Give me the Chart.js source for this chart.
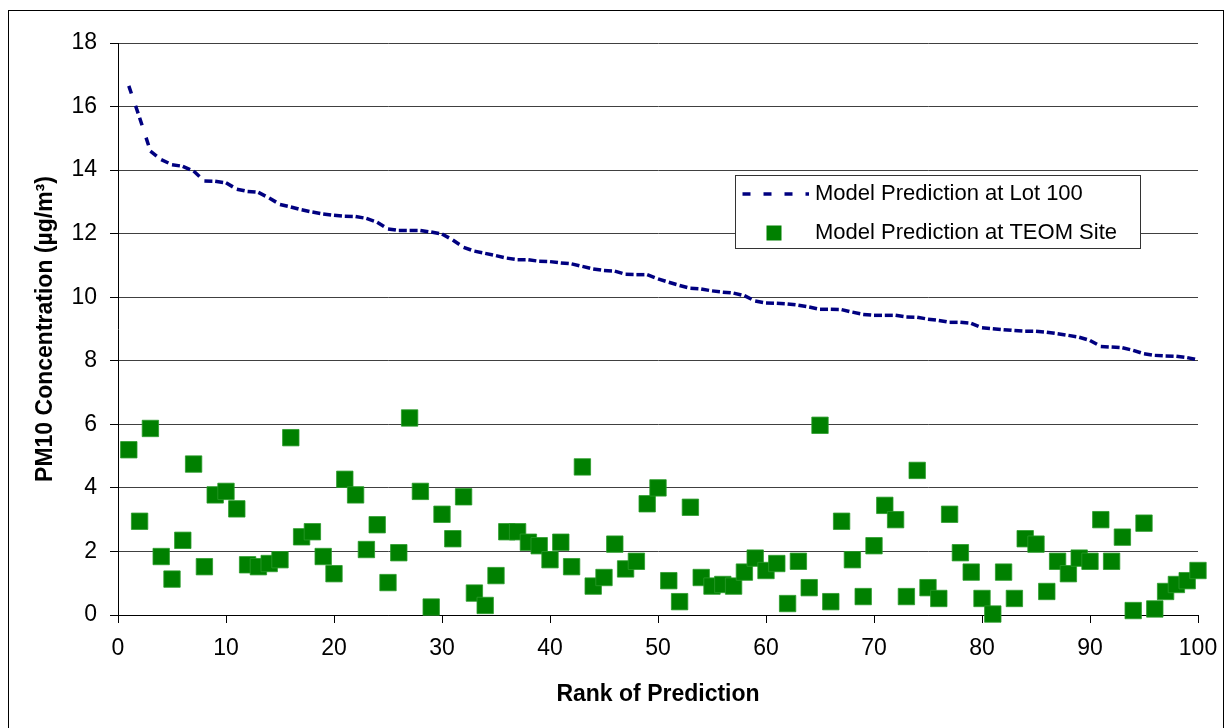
<!DOCTYPE html>
<html>
<head>
<meta charset="utf-8">
<script src="https://cdn.jsdelivr.net/npm/chart.js@4/dist/chart.umd.min.js"></script>
<style>
  html, body { margin: 0; padding: 0; background: #ffffff; }
  #wrap { width: 1225px; height: 728px; position: relative; }
</style>
</head>
<body>
<div id="wrap"><canvas id="c" width="1225" height="728"></canvas></div>
<script>
const seriesLabels = ['Model Prediction at Lot 100', 'Model Prediction at TEOM Site'];
const xTitle = 'Rank of Prediction';
const yTitle = 'PM10 Concentration (µg/m³)';

const ranks = [1,2,3,4,5,6,7,8,9,10,11,12,13,14,15,16,17,18,19,20,
  21,22,23,24,25,26,27,28,29,30,31,32,33,34,35,36,37,38,39,40,
  41,42,43,44,45,46,47,48,49,50,51,52,53,54,55,56,57,58,59,60,
  61,62,63,64,65,66,67,68,69,70,71,72,73,74,75,76,77,78,79,80,
  81,82,83,84,85,86,87,88,89,90,91,92,93,94,95,96,97,98,99,100];

const lot100 = [16.65,15.65,14.6,14.33,14.17,14.12,13.97,13.66,13.65,13.6,
  13.4,13.33,13.3,13.12,12.92,12.84,12.75,12.68,12.62,12.58,
  12.55,12.54,12.48,12.36,12.15,12.1,12.1,12.1,12.05,11.99,
  11.8,11.57,11.45,11.38,11.31,11.23,11.18,11.18,11.13,11.12,
  11.08,11.05,10.97,10.89,10.84,10.82,10.72,10.71,10.71,10.58,
  10.47,10.37,10.28,10.26,10.2,10.16,10.13,10.05,9.88,9.82,
  9.81,9.79,9.75,9.69,9.62,9.62,9.61,9.53,9.46,9.43,
  9.43,9.43,9.38,9.37,9.31,9.27,9.21,9.21,9.18,9.04,
  9.01,8.98,8.95,8.93,8.93,8.9,8.85,8.8,8.74,8.64,
  8.45,8.43,8.41,8.33,8.22,8.17,8.15,8.14,8.1,8.03];

const teom = [5.2,2.95,5.87,1.84,1.13,2.35,4.75,1.52,3.78,3.89,
  3.34,1.58,1.52,1.62,1.74,5.58,2.46,2.62,1.84,1.30,
  4.27,3.78,2.06,2.84,1.02,1.96,6.2,3.89,0.25,3.17,
  2.40,3.72,0.69,0.30,1.24,2.62,2.62,2.29,2.18,1.74,
  2.29,1.52,4.66,0.91,1.18,2.23,1.45,1.69,3.50,4.0,
  1.08,0.42,3.39,1.18,0.91,0.96,0.91,1.35,1.79,1.40,
  1.62,0.36,1.69,0.86,5.97,0.42,2.95,1.74,0.58,2.18,
  3.45,3.0,0.58,4.55,0.86,0.52,3.17,1.96,1.35,0.52,
  0.03,1.35,0.52,2.40,2.23,0.74,1.69,1.30,1.79,1.69,
  3.0,1.69,2.45,0.14,2.89,0.19,0.74,0.96,1.08,1.40];

const xTicksMin = 0, xTicksMax = 100, xStep = 10;
const yTicksMin = 0, yTicksMax = 18, yStep = 2;

const NAVY = '#000080';
const GREEN = '#008000';
const FONT = "'Liberation Sans', Arial, sans-serif";

const lineData = ranks.map((r, i) => ({x: r, y: lot100[i]}));
const teomData = ranks.map((r, i) => ({x: r, y: teom[i]}));

const frame = {
  id: 'frame',
  beforeDraw(chart) {
    const ctx = chart.ctx;
    ctx.save();
    ctx.fillStyle = '#ffffff';
    ctx.fillRect(0, 0, chart.width, chart.height);
    ctx.strokeStyle = '#000000';
    ctx.lineWidth = 1;
    ctx.strokeRect(8.5, 10.5, 1215, 760);
    ctx.restore();
  }
};

const boxLegend = {
  id: 'boxLegend',
  afterDraw(chart) {
    const ctx = chart.ctx;
    const ds = chart.data.datasets;
    ctx.save();
    ctx.fillStyle = '#ffffff';
    ctx.fillRect(735.5, 175.5, 405, 73);
    ctx.strokeStyle = '#333333';
    ctx.lineWidth = 1;
    ctx.strokeRect(735.5, 175.5, 405, 73);
    ctx.strokeStyle = ds[0].borderColor;
    ctx.lineWidth = 3.5;
    ctx.setLineDash([8, 13]);
    ctx.beginPath();
    ctx.moveTo(742.5, 194);
    ctx.lineTo(809, 194);
    ctx.stroke();
    ctx.setLineDash([]);
    ctx.fillStyle = ds[1].backgroundColor;
    ctx.fillRect(766.5, 225.5, 15, 15);
    ctx.fillStyle = '#000000';
    ctx.font = '22px ' + FONT;
    ctx.textBaseline = 'middle';
    ctx.textAlign = 'left';
    ctx.fillText(ds[0].label, 815, 194);
    ctx.fillText(ds[1].label, 815, 233);
    ctx.restore();
  }
};

new Chart(document.getElementById('c'), {
  type: 'scatter',
  data: {
    datasets: [
      {
        type: 'line',
        label: seriesLabels[0],
        data: lineData,
        borderColor: NAVY,
        backgroundColor: NAVY,
        borderWidth: 3.5,
        borderDash: [8, 13],
        borderCapStyle: 'butt',
        pointRadius: 0,
        pointHoverRadius: 0,
        tension: 0,
        fill: false,
        segment: {
          borderDashOffset: (c) => (c.p0DataIndex % 2 ? 0.001 : 0)
        },
        order: 2
      },
      {
        type: 'scatter',
        label: seriesLabels[1],
        data: teomData,
        pointStyle: 'rect',
        pointRadius: 11.6,
        pointHoverRadius: 11.6,
        backgroundColor: GREEN,
        borderColor: '#2a9a2a',
        borderWidth: 0.8,
        clip: false,
        order: 1
      }
    ]
  },
  options: {
    responsive: false,
    animation: false,
    events: [],
    layout: { padding: { top: 43, right: 27, bottom: 0, left: 0 } },
    plugins: {
      legend: { display: false },
      tooltip: { enabled: false },
      title: { display: false }
    },
    scales: {
      x: {
        type: 'linear',
        min: xTicksMin,
        max: xTicksMax,
        afterFit: (s) => { s.height = 113; s.paddingLeft = 0; s.paddingRight = 0; },
        border: { display: true, color: '#000000', width: 1 },
        grid: { drawOnChartArea: false, drawTicks: true, tickLength: 8, color: '#000000' },
        ticks: { stepSize: xStep, color: '#000000', padding: 12, font: { family: FONT, size: 23 }, maxRotation: 0 },
        title: { display: true, text: xTitle, color: '#000000', font: { family: FONT, size: 23, weight: 'bold' }, padding: { top: 0, bottom: 20 } }
      },
      y: {
        type: 'linear',
        min: yTicksMin,
        max: yTicksMax,
        afterFit: (s) => { s.width = 118; s.paddingTop = 0; s.paddingBottom = 0; },
        border: { display: true, color: '#000000', width: 1 },
        grid: { drawOnChartArea: true, drawTicks: true, tickLength: 8, color: '#404040', tickColor: '#000000' },
        ticks: { stepSize: yStep, color: '#000000', padding: 13, font: { family: FONT, size: 23 } },
        title: { display: true, text: yTitle, color: '#000000', font: { family: FONT, size: 23, weight: 'bold' }, padding: { top: 32, bottom: 0 } }
      }
    }
  },
  plugins: [frame, boxLegend]
});
</script>
</body>
</html>
